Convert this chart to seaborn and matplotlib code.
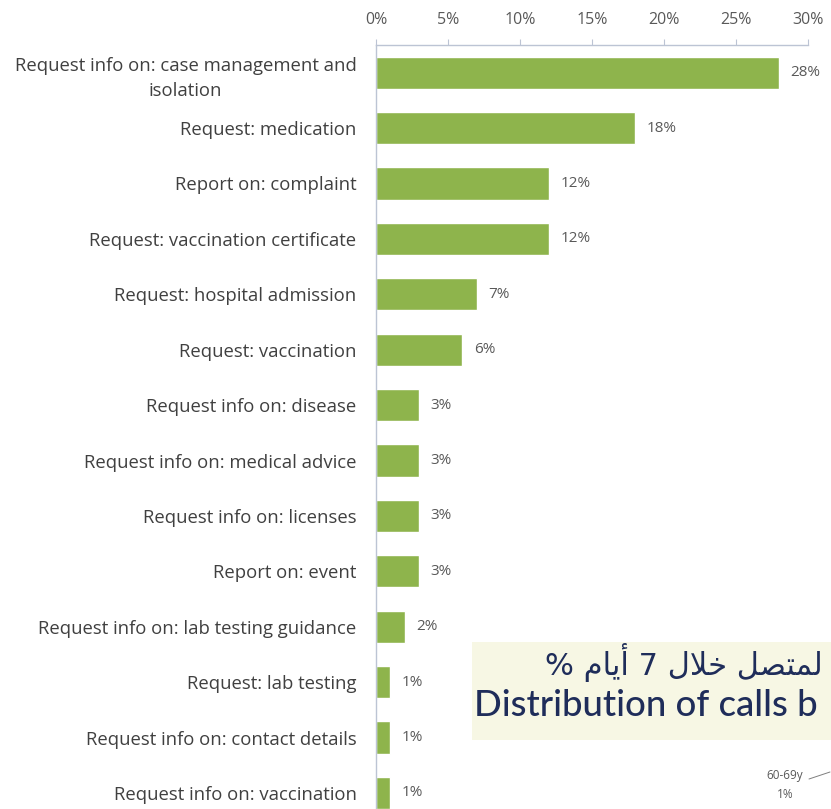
import matplotlib
matplotlib.use("Agg")
import matplotlib.pyplot as plt
import matplotlib.patches as mpatches
import seaborn as sns
import pandas as pd

categories = [
    "Request info on: case management and\nisolation",
    "Request: medication",
    "Report on: complaint",
    "Request: vaccination certificate",
    "Request: hospital admission",
    "Request: vaccination",
    "Request info on: disease",
    "Request info on: medical advice",
    "Request info on: licenses",
    "Report on: event",
    "Request info on: lab testing guidance",
    "Request: lab testing",
    "Request info on: contact details",
    "Request info on: vaccination",
]
shares = [28, 18, 12, 12, 7, 6, 3, 3, 3, 3, 2, 1, 1, 1]
xticks = [0, 5, 10, 15, 20, 25, 30]

# visible part of the slide title, arabic in visual order
# (presentation forms, since matplotlib does no shaping)
title_ar = "% \uFEE1\uFE8E\uFEF3\uFE83 7 \uFEDD\uFEFC\uFEA7 \uFEDE\uFEBC\uFE98\uFEE4\uFEDF"
title_en = "Distribution of calls b"
pie_label = "60-69y\n1%"

df = pd.DataFrame({"category": categories, "share": shares})

sns.set_style("white")
plt.rcParams["font.family"] = ["Open Sans", "DejaVu Sans"]

fig = plt.figure(figsize=(8.31, 8.09), dpi=100)
ax = fig.add_axes([376 / 831, 1 - 45 / 809 - 775.6 / 809, 432 / 831, 775.6 / 809])
ax.set_facecolor("none")

sns.barplot(data=df, x="share", y="category", orient="h", color="#8EB44C",
            width=0.58, saturation=1, ax=ax)

ax.set_xlim(0, 30)
ax.set_ylim(len(categories) - 0.5, -0.5)
ax.set_xticks(xticks)
ax.set_xticklabels([f"{t}%" for t in xticks])
ax.xaxis.tick_top()
ax.set_xlabel("")
ax.set_ylabel("")

axis_col = "#BCC4D4"
for s in ["right", "bottom"]:
    ax.spines[s].set_visible(False)
for s in ["left", "top"]:
    ax.spines[s].set_color(axis_col)
    ax.spines[s].set_linewidth(1.0)

ax.tick_params(axis="x", which="major", length=4, color=axis_col, labelsize=11.5,
               labelcolor="#595959", pad=8, top=True, bottom=False)
ax.tick_params(axis="y", which="major", length=0, labelsize=13.3,
               labelcolor="#404040", pad=14)
ax.set_yticks([i + 0.5 for i in range(-1, len(categories))], minor=True)
ax.tick_params(axis="y", which="minor", length=4, color=axis_col)

for lbl in ax.get_yticklabels():
    lbl.set_multialignment("center")
    lbl.set_linespacing(1.5)

for i, v in enumerate(shares):
    ax.text(v + 0.8, i, f"{v}%", va="center", ha="left", fontsize=11,
            color="#595959")

# partial text box from the slide
box = mpatches.Rectangle((472 / 831, (809 - 740) / 809), 1 - 472 / 831,
                         (740 - 642) / 809, transform=fig.transFigure,
                         facecolor="#F7F7E4", edgecolor="none", zorder=1)
fig.patches.append(box)
fig.text(545 / 831, 1 - 663 / 809, title_ar, family=["DejaVu Sans"], fontsize=22,
         color="#1F2D5A", va="center", ha="left", zorder=2)
fig.text(474 / 831, 1 - 705 / 809, title_en, family=["Lato", "DejaVu Sans"],
         fontsize=26.3, fontweight="medium", color="#1F2D5A",
         va="center", ha="left", zorder=2)
fig.text(785 / 831, 1 - 785 / 809, pie_label, fontsize=8.5, color="#595959",
         ha="center", va="center", linespacing=1.5)
fig.add_artist(plt.Line2D([809 / 831, 830 / 831], [1 - 779 / 809, 1 - 772 / 809],
                          transform=fig.transFigure, color="#7F7F7F", lw=0.7))

fig.savefig("out.png", dpi=100)
